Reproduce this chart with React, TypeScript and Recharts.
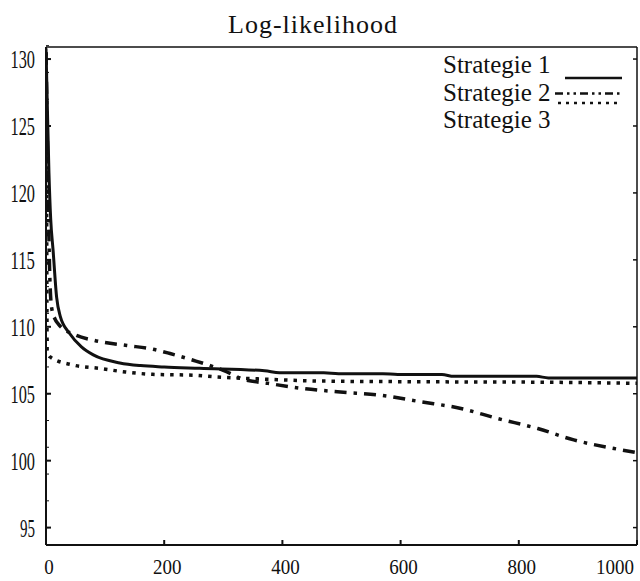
import React from 'react';
import { LineChart, Line, XAxis, YAxis } from 'recharts';

const TITLE = 'Log-likelihood';
const SERIES_NAMES = ['Strategie 1', 'Strategie 2', 'Strategie 3'];

const X_TICKS = [0, 200, 400, 600, 800, 1000];
const Y_TICKS = [95, 100, 105, 110, 115, 120, 125, 130];
const Y_MINOR = Array.from({ length: 38 }, (_, i) => 94 + i);

// Strategie 1 (solid)
const S1_X = [0, 2, 5, 8, 12, 18, 24, 40, 60, 80, 125, 160, 200, 260, 370, 395, 470, 495, 570, 595, 670, 690, 830, 850, 1000];
const S1_Y = [130.8, 127, 121.5, 118, 115.7, 112.2, 110.8, 109.5, 108.5, 107.9, 107.3, 107.1, 107.0, 106.9, 106.72, 106.57, 106.57, 106.5, 106.5, 106.43, 106.43, 106.3, 106.3, 106.18, 106.18];

// Strategie 2 (dash-dot)
const S2_X = [0, 3, 5, 7, 10, 15, 21, 49, 80, 137, 176, 210, 249, 278, 300, 334, 375, 431, 498, 566, 634, 702, 764, 832, 893, 968, 1000];
const S2_Y = [130.5, 122, 116.5, 113, 111.3, 110.6, 110.2, 109.4, 109.0, 108.6, 108.37, 108.0, 107.5, 107.1, 106.75, 106.08, 105.78, 105.41, 105.13, 104.89, 104.4, 103.9, 103.15, 102.4, 101.55, 100.85, 100.6];

// Strategie 3 (dotted)
const S3_X = [0, 1, 2, 7, 45, 90, 135, 180, 250, 290, 375, 460, 600, 840, 1000];
const S3_Y = [130.5, 120, 108.2, 107.75, 107.15, 106.9, 106.62, 106.45, 106.38, 106.25, 106.08, 105.95, 105.9, 105.86, 105.78];

const toPoints = (xs: number[], ys: number[]) => xs.map((x, i) => ({ x, y: ys[i] }));

const SERIES = [
  { name: SERIES_NAMES[0], data: toPoints(S1_X, S1_Y), dash: undefined, width: 3 },
  { name: SERIES_NAMES[1], data: toPoints(S2_X, S2_Y), dash: '12 7 3.5 7', width: 3.5 },
  { name: SERIES_NAMES[2], data: toPoints(S3_X, S3_Y), dash: '3.5 6', width: 3.5 },
];

const FONT = '"Liberation Serif", "Times New Roman", serif';
const INK = '#111';
const CHART_W = 640;

// legend sample lines sit at odd heights in the original
const LEGEND_SAMPLES = [
  { x1: 565, dy: 5, dash: undefined },
  { x1: 555, dy: -7, dash: '8 4 2.5 4 2.5 4' },
  { x1: 558, dy: -25, dash: '3 5' },
];

function XTick(props: any) {
  const { x, y, payload } = props;
  const label = String(payload.value);
  const w = label.length * 9.5;
  // last label would run off the page: pull it in
  const edge = CHART_W - 6;
  const overflow = x + 3 + w / 2 > edge;
  return (
    <text x={overflow ? edge : x + 3} y={y} dy="0.71em" textAnchor={overflow ? 'end' : 'middle'}
      fontFamily={FONT} fontSize={21} fill={INK} textLength={w} lengthAdjust="spacingAndGlyphs">
      {label}
    </text>
  );
}

function YTick(props: any) {
  const { x, y, payload } = props;
  const label = String(payload.value);
  return (
    <text x={x} y={y} dy="0.355em" textAnchor="end" fontFamily={FONT} fontSize={26} fill={INK}
      textLength={label.length * 9.5 - 4} lengthAdjust="spacingAndGlyphs">
      {label}
    </text>
  );
}

const NoTick = () => null;

export default function App() {
  return (
    <div style={{ position: 'absolute', left: 0, top: 0, width: CHART_W, height: 581, background: '#fff' }}>
      <LineChart width={CHART_W} height={581} margin={{ top: 47, right: 3, bottom: 0, left: 0 }}>
        <XAxis
          type="number"
          dataKey="x"
          domain={[0, 1000]}
          ticks={X_TICKS}
          height={36}
          stroke={INK}
          strokeWidth={2}
          tickSize={-5}
          tickMargin={19}
          tick={<XTick />}
          allowDataOverflow
        />
        <XAxis
          xAxisId="top"
          orientation="top"
          type="number"
          dataKey="x"
          domain={[0, 1000]}
          ticks={X_TICKS}
          mirror
          stroke={INK}
          strokeWidth={1.5}
          tickSize={4}
          tick={NoTick}
        />
        <YAxis
          type="number"
          domain={[93.7, 130.9]}
          ticks={Y_TICKS}
          width={46}
          stroke={INK}
          strokeWidth={2}
          tickSize={-5}
          tickMargin={16}
          tick={<YTick />}
          allowDataOverflow
        />
        <YAxis
          yAxisId="minor"
          type="number"
          domain={[93.7, 130.9]}
          ticks={Y_MINOR}
          mirror
          axisLine={false}
          stroke={INK}
          tickSize={3}
          tick={NoTick}
          allowDataOverflow
        />
        <YAxis
          yAxisId="right"
          orientation="right"
          type="number"
          domain={[93.7, 130.9]}
          ticks={Y_TICKS}
          mirror
          stroke={INK}
          strokeWidth={1.5}
          tickSize={4}
          tick={NoTick}
          allowDataOverflow
        />
        {SERIES.map((s) => (
          <Line
            key={s.name}
            data={s.data}
            dataKey="y"
            name={s.name}
            type="monotone"
            stroke={INK}
            strokeWidth={s.width}
            strokeDasharray={s.dash}
            dot={false}
            activeDot={false}
            isAnimationActive={false}
          />
        ))}
      </LineChart>
      <svg width={CHART_W} height={581} style={{ position: 'absolute', left: 0, top: 0, pointerEvents: 'none' }}>
        <text x={313} y={33} textAnchor="middle" fontFamily={FONT} fontSize={26} letterSpacing={1} fill={INK}>
          {TITLE}
        </text>
        {SERIES.map((s, i) => {
          const base = 73 + i * 27.5;
          const smp = LEGEND_SAMPLES[i];
          return (
            <g key={s.name}>
              <text x={443} y={base} fontFamily={FONT} fontSize={25} fill={INK}>
                {s.name}
              </text>
              <line x1={smp.x1} x2={622} y1={base + smp.dy} y2={base + smp.dy} stroke={INK}
                strokeWidth={2.5} strokeDasharray={smp.dash} />
            </g>
          );
        })}
      </svg>
    </div>
  );
}
